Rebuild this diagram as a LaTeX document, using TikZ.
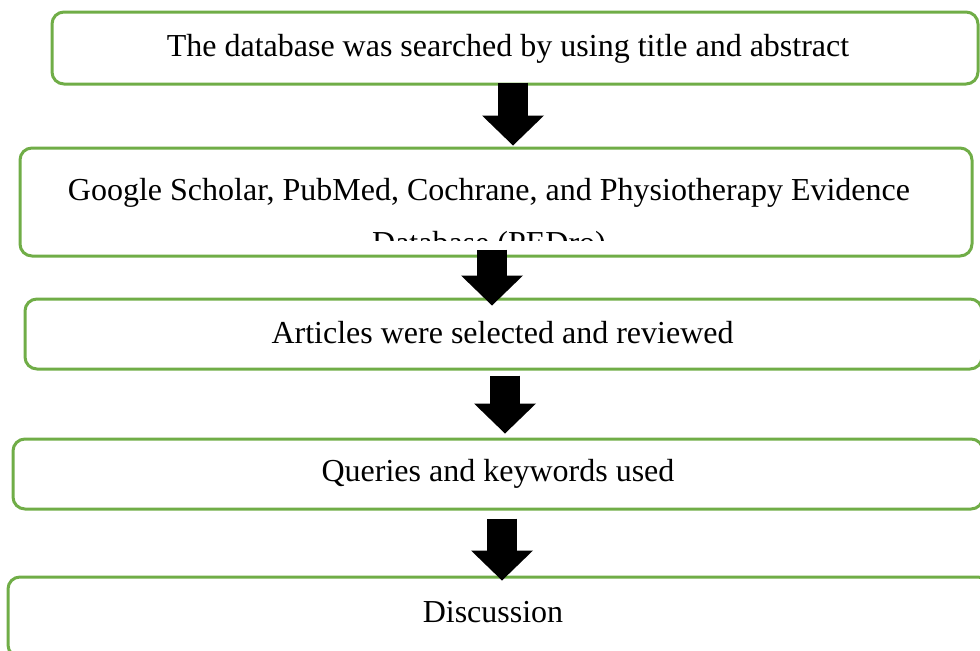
\documentclass[tikz,border=0pt]{standalone}
\usepackage{fontspec}
\setmainfont{Liberation Serif}
\usetikzlibrary{arrows.meta,calc}
\definecolor{boxgreen}{RGB}{112,173,71}

\begin{document}
\begin{tikzpicture}[x=0.75pt,y=-0.75pt,
    box/.style={draw=boxgreen, line width=2.25pt, rounded corners=9pt, inner sep=0pt},
    lbl/.style={font=\fontsize{24}{40}\selectfont, inner sep=0pt},
    blockarr/.style={line width=22.5pt, -{Triangle[length=22.5pt,width=46.5pt,line width=0pt]}}]
    \useasboundingbox (0,0) rectangle (980,650);
    \clip (0,0) rectangle (980,650);
    % boxes (pixel coordinates, y downwards)
    \node[box, minimum width=694.5pt, minimum height=54pt] (b1) at (515,48) {};
    \node[box, minimum width=714pt, minimum height=81pt] (b2) at (496,202) {};
    \node[box, minimum width=717.75pt, minimum height=52.5pt] (b3) at (503.5,334) {};
    \node[box, minimum width=727.5pt, minimum height=52.5pt] (b4) at (498,474) {};
    \node[box, minimum width=736.5pt, minimum height=60pt] (b5) at (499,617) {};
    % texts
    \node[lbl] (t1) at (508,48.5) {The database was searched by using title and abstract};
    \begin{scope}
      \clip (20,148) rectangle (972,240);
      \node[lbl, align=center, anchor=north] (t2) at (489,178)
        {Google Scholar, PubMed, Cochrane, and Physiotherapy Evidence\\ Database (PEDro)};
    \end{scope}
    \node[lbl] (t3) at (502.5,332.5) {Articles were selected and reviewed};
    \node[lbl] (t4) at (498,473.5) {Queries and keywords used};
    \node[lbl] (t5) at (493,612) {Discussion};
    % block arrows
    \draw[blockarr] ($(b1.south)+(-2,-3)$) -- ($(b1.south |- b2.north)+(-2,-1)$);
    \draw[blockarr] ($(b2.south)+(-4,-8)$) -- ($(b2.south |- b3.north)+(-4,8)$);
    \draw[blockarr] ($(b3.south)+(1.5,5)$) -- ($(b3.south |- b4.north)+(1.5,-4)$);
    \draw[blockarr] ($(b4.south)+(4,8)$) -- ($(b4.south |- b5.north)+(4,5)$);
\end{tikzpicture}
\end{document}
